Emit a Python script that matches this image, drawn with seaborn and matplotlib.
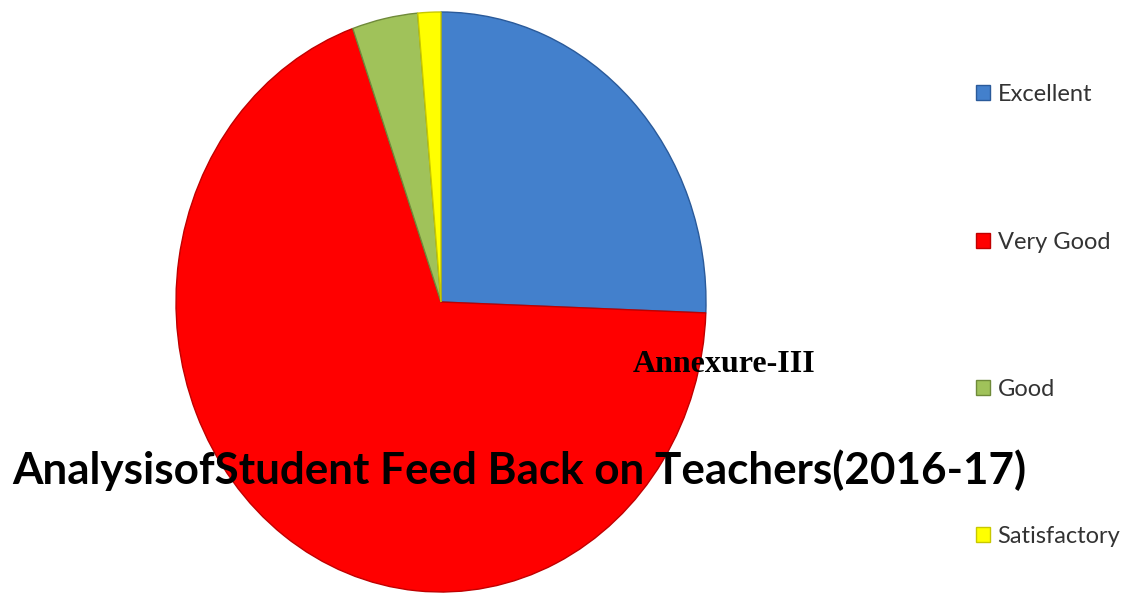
import matplotlib.pyplot as plt
import seaborn as sns
from matplotlib.patches import Patch

# values (percent of responses)
categories = ["Excellent", "Very Good", "Good", "Satisfactory"]
shares = [25.6, 69.0, 4.0, 1.4]
colors = ["#4380cc", "#ff0000", "#a0c25a", "#ffff00"]
edge_colors = ["#2a5a9a", "#c00000", "#6f8a3a", "#c8c800"]

title = "AnalysisofStudent Feed Back on Teachers(2016-17)"
annex = "Annexure-III"

sns.set_theme(style="white")
plt.rcParams["font.family"] = ["Lato", "DejaVu Sans"]

fig = plt.figure(figsize=(11.37, 6.0), dpi=100)
# pie is drawn slightly stretched vertically, like the original
ax = fig.add_axes([176 / 1137, 8 / 600, 530 / 1137, 580 / 600])
wedges, _ = ax.pie(shares, colors=colors, startangle=90, counterclock=False,
                   wedgeprops=dict(linewidth=1.0))
for w, ec in zip(wedges, edge_colors):
    w.set_edgecolor(ec)
ax.set_aspect("auto")
ax.set_xlim(-1.0, 1.0)
ax.set_ylim(-1.0, 1.0)
ax.axis("off")

handles = [Patch(facecolor=c, edgecolor=ec, linewidth=1.0)
           for c, ec in zip(colors, edge_colors)]
fig.legend(handles, categories, loc="upper left",
           bbox_to_anchor=(955 / 1137, 1 - 63 / 600), frameon=False,
           fontsize=17, labelcolor="#333333", handlelength=0.6,
           handleheight=0.6, handletextpad=0.3, labelspacing=5.35)

fig.text(12 / 1137, 1 - 470 / 600, title, fontsize=31.7, fontweight="bold",
         color="black", va="center", ha="left", zorder=5)
fig.text(633 / 1137, 1 - 364 / 600, annex, fontsize=23, fontweight="bold",
         family=["Liberation Serif", "DejaVu Serif"], color="black",
         va="center", ha="left", zorder=5)

fig.savefig("out.png", dpi=100)
